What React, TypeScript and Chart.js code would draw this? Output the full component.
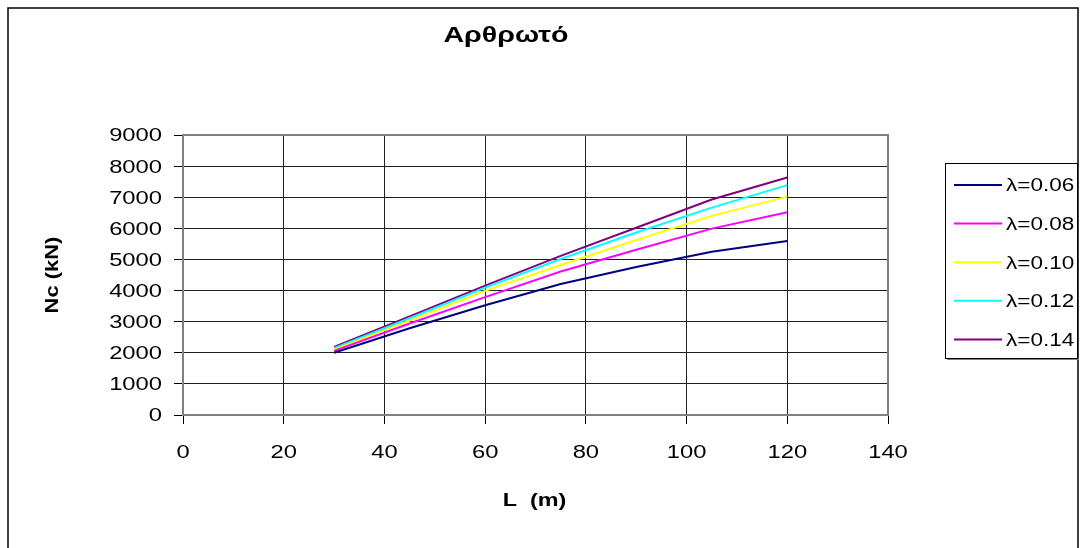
import React, { useEffect, useRef } from "react";
import { Chart, registerables } from "chart.js";

Chart.register(...registerables);

// Span lengths L (m)
const spans = [30, 45, 60, 75, 90, 105, 120];

// Critical load Nc (kN) for each slenderness parameter λ
const nc006 = [2000, 2790, 3530, 4210, 4760, 5250, 5590];
const nc008 = [2060, 2940, 3790, 4610, 5310, 5990, 6520];
const nc010 = [2100, 3035, 3990, 4820, 5625, 6400, 7020];
const nc012 = [2145, 3110, 4096, 5015, 5866, 6666, 7390];
const nc014 = [2185, 3170, 4160, 5113, 6017, 6928, 7635];

const seriesLabels = ["λ=0.06", "λ=0.08", "λ=0.10", "λ=0.12", "λ=0.14"];
const seriesColors = ["#000080", "#FF00FF", "#FFFF00", "#00FFFF", "#800080"];
const seriesValues = [nc006, nc008, nc010, nc012, nc014];

const chartTitle = "Αρθρωτό";
const xTitle = "L  (m)";
const yTitle = "Nc (kN)";

const FONT = "'Liberation Sans', Arial, sans-serif";
const CAP = 0.716; // cap-height ratio of the sans face

// Writes text widened by sx along its direction, vertically centred on y
function wideText(
  ctx: any,
  text: string,
  x: number,
  y: number,
  size: number,
  sx: number,
  align: string,
  bold = false,
  rot = 0
) {
  ctx.save();
  ctx.translate(x, y);
  if (rot) ctx.rotate(rot);
  ctx.scale(sx, 1);
  ctx.font = `${bold ? "bold " : ""}${size}px ${FONT}`;
  ctx.textAlign = align;
  ctx.textBaseline = "alphabetic";
  ctx.fillText(text, 0, (size * CAP) / 2);
  ctx.restore();
}

// Draws the outer frame, plot-area frame, tick labels, titles and the boxed legend
const decorations = {
  id: "decorations",
  beforeDatasetsDraw(chart: any) {
    const { ctx, chartArea } = chart;
    ctx.save();
    ctx.strokeStyle = "#808080";
    ctx.lineWidth = 2;
    ctx.strokeRect(chartArea.left, chartArea.top, chartArea.right - chartArea.left, chartArea.bottom - chartArea.top);
    ctx.restore();
  },
  afterDraw(chart: any) {
    const { ctx } = chart;
    const xs = chart.scales.x;
    const ys = chart.scales.y;
    ctx.save();

    // outer frame
    ctx.strokeStyle = "#000";
    ctx.lineWidth = 1.5;
    ctx.strokeRect(8, 8, 1070, 600);

    ctx.fillStyle = "#000";

    // tick labels from the scales
    ys.ticks.forEach((t: any) => {
      wideText(ctx, String(t.value), 162, ys.getPixelForValue(t.value), 18, 1.32, "right");
    });
    xs.ticks.forEach((t: any) => {
      wideText(ctx, String(t.value), xs.getPixelForValue(t.value), 452, 18, 1.32, "center");
    });

    // titles
    wideText(ctx, chartTitle, 506, 34, 22, 1.3, "center", true);
    wideText(ctx, xTitle, 534.5, 500, 18, 1.3, "center", true);
    wideText(ctx, yTitle, 52, 275, 18, 1.22, "center", true, -Math.PI / 2);

    // legend
    const lx = 945, ly = 163, lw = 132, lh = 195;
    ctx.fillStyle = "#808080";
    ctx.fillRect(lx + 2, ly + lh, lw, 2);
    ctx.fillStyle = "#fff";
    ctx.fillRect(lx, ly, lw, lh);
    ctx.strokeStyle = "#000";
    ctx.lineWidth = 1;
    ctx.strokeRect(lx + 0.5, ly + 0.5, lw, lh);

    chart.data.datasets.forEach((ds: any, i: number) => {
      const y = 185 + i * 38.6;
      ctx.strokeStyle = ds.borderColor;
      ctx.lineWidth = 2;
      ctx.beginPath();
      ctx.moveTo(954, y);
      ctx.lineTo(1002, y);
      ctx.stroke();
      ctx.fillStyle = "#000";
      wideText(ctx, ds.label, 1006, y, 18, 1.25, "left");
    });

    ctx.restore();
  },
};

export default function App() {
  const canvasRef = useRef<HTMLCanvasElement | null>(null);

  useEffect(() => {
    if (!canvasRef.current) return;
    const chart = new Chart(canvasRef.current, {
      type: "line",
      data: {
        datasets: seriesValues.map((vals, i) => ({
          label: seriesLabels[i],
          data: spans.map((x, j) => ({ x, y: vals[j] })),
          borderColor: seriesColors[i],
          backgroundColor: seriesColors[i],
          borderWidth: 2,
          pointRadius: 0,
          tension: 0,
          fill: false,
        })),
      },
      options: {
        responsive: true,
        maintainAspectRatio: false,
        animation: false,
        layout: { padding: { top: 135, right: 194, bottom: 0, left: 0 } },
        plugins: {
          legend: { display: false },
          tooltip: { enabled: false },
          title: { display: false },
        },
        scales: {
          x: {
            type: "linear",
            min: 0,
            max: 140,
            ticks: { stepSize: 20, display: false },
            grid: { color: "#202020", lineWidth: 1, tickLength: 9, tickColor: "#000", drawTicks: true },
            border: { display: true, color: "#404040", width: 1 },
            afterFit: (s: any) => {
              s.height = 133;
            },
          },
          y: {
            min: 0,
            max: 9000,
            ticks: { stepSize: 1000, display: false },
            grid: { color: "#202020", lineWidth: 1, tickLength: 9, tickColor: "#000", drawTicks: true },
            border: { display: true, color: "#404040", width: 1 },
            afterFit: (s: any) => {
              s.width = 183;
            },
          },
        },
      },
      plugins: [decorations],
    });
    return () => chart.destroy();
  }, []);

  return (
    <div style={{ position: "fixed", left: 0, top: 0, width: 1082, height: 548, background: "#fff" }}>
      <canvas ref={canvasRef} />
    </div>
  );
}
